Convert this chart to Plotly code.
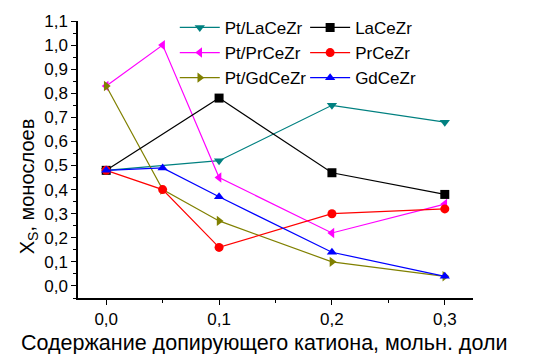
import plotly.graph_objects as go

x_full = [0.0, 0.05, 0.1, 0.2, 0.3]
x_four = [0.0, 0.1, 0.2, 0.3]

pt_la = [0.48, 0.52, 0.75, 0.68]
la = [0.48, 0.78, 0.47, 0.38]
pt_pr = [0.83, 1.00, 0.45, 0.22, 0.34]
pr = [0.48, 0.40, 0.16, 0.30, 0.32]
pt_gd = [0.83, 0.40, 0.27, 0.10, 0.04]
gd = [0.48, 0.49, 0.37, 0.14, 0.04]

x_ticks = [0.0, 0.1, 0.2, 0.3]
y_ticks = [round(i * 0.1, 1) for i in range(12)]

x_title = "Содержание допирующего катиона, мольн. доли"
y_title = "X<sub>S</sub>, монослоев"

series = [
    ("Pt/LaCeZr", x_four, pt_la, "#008080", "triangle-down", "legend"),
    ("Pt/PrCeZr", x_full, pt_pr, "#FF00FF", "triangle-left", "legend"),
    ("Pt/GdCeZr", x_full, pt_gd, "#808000", "triangle-right", "legend"),
    ("LaCeZr", x_four, la, "#000000", "square", "legend2"),
    ("PrCeZr", x_full, pr, "#FF0000", "circle", "legend2"),
    ("GdCeZr", x_full, gd, "#0000FF", "triangle-up", "legend2"),
]

fig = go.Figure()
for name, xs, ys, col, sym, lg in series:
    fig.add_trace(go.Scatter(
        x=xs, y=ys, name=name, mode="lines+markers",
        line=dict(color=col, width=1.2),
        marker=dict(symbol=sym, size=9, color=col),
        legend=lg,
    ))

font = "Liberation Sans, Arial, sans-serif"
leg_common = dict(
    orientation="v", yanchor="top", xanchor="left",
    font=dict(size=17), bgcolor="rgba(0,0,0,0)", itemwidth=40,
    tracegroupgap=0, borderwidth=0,
)
fig.update_layout(
    width=534, height=354,
    margin=dict(l=78, r=61, t=21, b=56, autoexpand=False),
    plot_bgcolor="white", paper_bgcolor="white",
    separators=", ",
    font=dict(family=font, size=17, color="black"),
    showlegend=True,
    legend=dict(x=0.245, y=1.040, **leg_common),
    legend2=dict(x=0.575, y=1.040, **leg_common),
    xaxis=dict(
        range=[-0.025, 0.325], tickvals=x_ticks, tickformat=".1f", automargin=False,
        showgrid=False, zeroline=False, showline=True, linecolor="black", linewidth=1.5,
        ticks="outside", ticklen=5, tickwidth=1.2, tickcolor="black",
        minor=dict(dtick=0.05, tick0=0, ticks="outside", ticklen=3, tickcolor="black", showgrid=False),
        tickfont=dict(size=17),
    ),
    yaxis=dict(
        range=[-0.05, 1.1], tickvals=y_ticks, tickformat=".1f", automargin=False,
        showgrid=False, zeroline=False, showline=True, linecolor="black", linewidth=1.5,
        ticks="outside", ticklen=5, tickwidth=1.2, tickcolor="black",
        minor=dict(dtick=0.05, tick0=0, ticks="outside", ticklen=3, tickcolor="black", showgrid=False),
        tickfont=dict(size=17),
    ),
    annotations=[
        dict(text=x_title, xref="paper", yref="paper", x=(264 - 78) / 395, y=-(343 - 297.7) / 277,
             xanchor="center", yanchor="middle", showarrow=False, font=dict(size=21.5)),
        dict(text=y_title, xref="paper", yref="paper", x=-(78 - 28) / 395, y=(297.7 - 186) / 277,
             xanchor="center", yanchor="middle", showarrow=False, textangle=-90, font=dict(size=20)),
    ],
)

fig.write_html("out.html", config={"displayModeBar": False},
               post_script="document.body.style.margin='0';")
